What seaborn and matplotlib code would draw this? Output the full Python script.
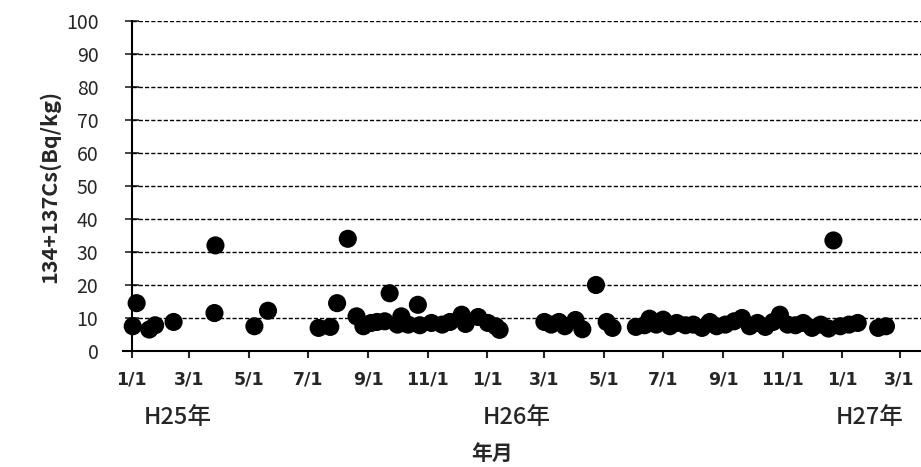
import numpy as np
import pandas as pd
import matplotlib
matplotlib.use("Agg")
import matplotlib.pyplot as plt
import matplotlib.dates as mdates
import seaborn as sns

# 測定日と 134+137Cs 濃度 (Bq/kg)
dates = [
    "2013-01-02", "2013-01-06", "2013-01-19", "2013-01-25", "2013-02-13",
    "2013-03-27", "2013-03-28", "2013-05-07", "2013-05-21",
    "2013-07-12", "2013-07-24", "2013-07-31", "2013-08-11", "2013-08-20",
    "2013-08-27", "2013-09-04", "2013-09-10", "2013-09-18", "2013-09-23",
    "2013-10-01", "2013-10-05", "2013-10-12", "2013-10-22", "2013-10-24",
    "2013-11-05", "2013-11-16", "2013-11-24", "2013-12-06", "2013-12-10",
    "2013-12-23", "2014-01-02", "2014-01-10", "2014-01-14",
    "2014-03-01", "2014-03-08", "2014-03-16", "2014-03-22", "2014-04-02",
    "2014-04-09", "2014-04-23", "2014-05-04", "2014-05-10",
    "2014-06-03", "2014-06-12", "2014-06-17", "2014-06-24", "2014-07-01",
    "2014-07-08", "2014-07-15", "2014-07-24", "2014-08-01", "2014-08-10",
    "2014-08-18", "2014-08-25", "2014-09-03", "2014-09-12", "2014-09-20",
    "2014-09-28", "2014-10-06", "2014-10-14", "2014-10-22", "2014-10-29",
    "2014-11-06", "2014-11-14", "2014-11-22", "2014-12-01", "2014-12-10",
    "2014-12-18", "2014-12-23", "2014-12-30", "2015-01-08", "2015-01-17",
    "2015-02-07", "2015-02-15",
]
cs_values = [
    7.5, 14.5, 6.5, 7.8, 8.8,
    11.5, 32.0, 7.5, 12.2,
    7.0, 7.3, 14.5, 34.0, 10.5,
    7.5, 8.5, 8.8, 9.0, 17.5,
    8.0, 10.5, 8.0, 14.0, 7.8,
    8.5, 8.0, 8.8, 11.0, 8.2,
    10.3, 8.5, 7.5, 6.4,
    8.8, 8.0, 8.8, 7.5, 9.4,
    6.6, 20.0, 8.8, 7.0,
    7.3, 7.8, 9.8, 8.0, 9.5,
    7.5, 8.5, 7.8, 8.0, 7.0,
    8.8, 7.5, 8.0, 9.0, 10.0,
    7.5, 8.5, 7.3, 8.8, 11.0,
    8.0, 7.8, 8.5, 7.0, 8.0,
    6.8, 33.5, 7.5, 8.0, 8.5,
    7.0, 7.5,
]

x_ticks = pd.date_range("2013-01-01", "2015-03-01", freq="2MS")
y_ticks = list(range(0, 101, 10))
year_labels = ["H25年", "H26年", "H27年"]
year_pos = ["2013-02-17", "2014-02-01", "2015-01-29"]

df = pd.DataFrame({"date": pd.to_datetime(dates), "cs": cs_values})

sns.set_style("white")
plt.rcParams['font.family'] = ['Noto Sans CJK JP', 'DejaVu Sans']

fig = plt.figure(figsize=(9.21, 4.67), dpi=100)
ax = fig.add_axes([123 / 921, 116 / 467, 798 / 921, 330 / 467])

x_start = pd.Timestamp("2013-01-01")
x_left = pd.Timestamp("2012-12-23")
x_right = pd.Timestamp("2015-03-23")

# 破線のグリッド
ax.hlines(y_ticks[1:], x_start, x_right, colors="black", linestyles=(0, (3, 1.5)),
          linewidth=1.0, zorder=1)

sns.scatterplot(data=df, x="date", y="cs", ax=ax, color="black", s=170,
                edgecolor="none", zorder=3, legend=False)

ax.set_xlim(x_left, x_right)
ax.set_ylim(0, 100)

# 軸線の位置を先に決める（後だと目盛の設定がリセットされる）
for s in ["top", "right"]:
    ax.spines[s].set_visible(False)
ax.spines["left"].set_position(("data", mdates.date2num(x_start)))
for s in ["left", "bottom"]:
    ax.spines[s].set_linewidth(1.5)
    ax.spines[s].set_color("black")

ax.set_yticks(y_ticks)
ax.set_xticks(x_ticks)
ax.set_xticklabels([f"{d.month}/1" for d in x_ticks],
                   family=['Liberation Sans Narrow', 'DejaVu Sans Condensed', 'DejaVu Sans'],
                   fontsize=12.5, fontweight="bold")
ax.set_yticklabels([str(v) for v in y_ticks], fontsize=14)
ax.tick_params(axis="y", direction="inout", length=10, width=1.2, pad=19, left=True)
ax.tick_params(axis="x", direction="out", length=5, width=1.5, pad=9, bottom=True)

ax.set_xlabel("")
ax.set_ylabel("134+137Cs(Bq/kg)", fontsize=15.5, fontweight="bold", labelpad=4)

for lab, pos in zip(year_labels, year_pos):
    ax.text(pd.Timestamp(pos), -0.2, lab, transform=ax.get_xaxis_transform(),
            ha="center", va="center", fontsize=17, fontweight="medium")
ax.text(0.463, -0.31, "年月", transform=ax.transAxes, ha="center", va="center",
        fontsize=15, fontweight="bold")

fig.savefig("out.png", dpi=100)
